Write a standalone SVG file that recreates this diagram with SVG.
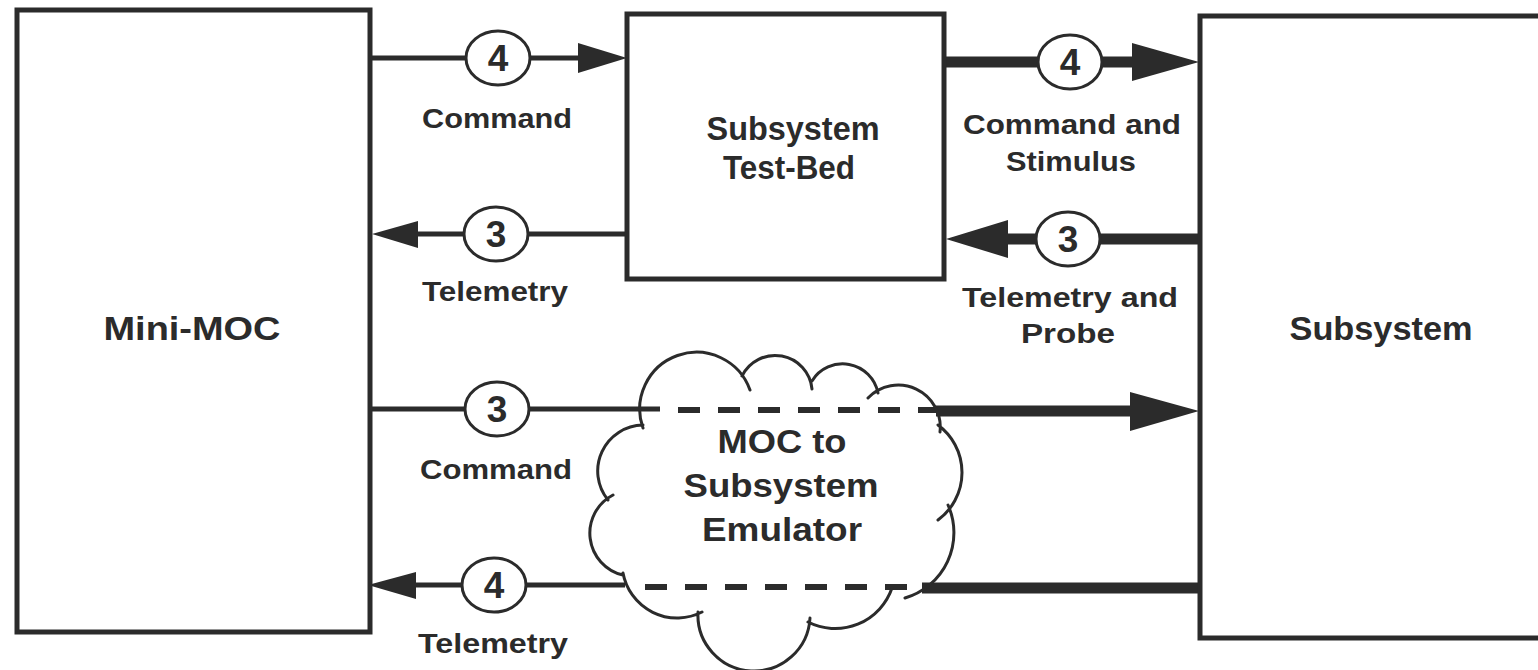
<svg xmlns="http://www.w3.org/2000/svg" width="1538" height="670" viewBox="0 0 1538 670">
  <style>
    .box { fill: #ffffff; stroke: #2b2b2b; stroke-width: 5; }
    .thin { stroke: #2b2b2b; stroke-width: 5; fill: none; }
    .thick { stroke: #2b2b2b; stroke-width: 11; fill: none; }
    .dash { stroke: #2b2b2b; stroke-width: 6; fill: none; stroke-dasharray: 22 18; }
    .head { fill: #2b2b2b; }
    .badge { fill: #ffffff; stroke: #2b2b2b; stroke-width: 3; }
    .cloud { fill: none; stroke: #2b2b2b; stroke-width: 3; stroke-linecap: round; }
    .num { font-family: "Liberation Sans", Arial, sans-serif; font-weight: bold; font-size: 37px; fill: #2b2b2b; text-anchor: middle; }
    .lbl { font-family: "Liberation Sans", Arial, sans-serif; font-weight: bold; font-size: 27px; fill: #2b2b2b; text-anchor: middle; }
    .big { font-family: "Liberation Sans", Arial, sans-serif; font-weight: bold; font-size: 34px; fill: #2b2b2b; text-anchor: middle; }
  </style>
  <rect width="1538" height="670" fill="#ffffff"/>

  <!-- connectors -->
  <g id="connectors">
    <!-- Mini-MOC to Test-Bed: command -->
    <line class="thin" x1="372" y1="58" x2="582" y2="58"/>
    <polygon class="head" points="578,43 627,58 578,73"/>
    <!-- Test-Bed to Subsystem: command and stimulus -->
    <line class="thick" x1="946" y1="62" x2="1136" y2="62"/>
    <polygon class="head" points="1132,43 1199,62 1132,81"/>
    <!-- Test-Bed to Mini-MOC: telemetry -->
    <line class="thin" x1="414" y1="234" x2="627" y2="234"/>
    <polygon class="head" points="372,234 418,221 418,248"/>
    <!-- Subsystem to Test-Bed: telemetry and probe -->
    <line class="thick" x1="1004" y1="239" x2="1199" y2="239"/>
    <polygon class="head" points="946,239 1008,220 1008,258"/>
    <!-- Mini-MOC to Subsystem through emulator: command -->
    <line class="thin" x1="370" y1="409" x2="660" y2="409"/>
    <line class="dash" x1="678" y1="410" x2="938" y2="410"/>
    <line class="thick" x1="936" y1="411" x2="1136" y2="411"/>
    <polygon class="head" points="1130,392 1199,411 1130,431"/>
    <!-- Subsystem to Mini-MOC through emulator: telemetry -->
    <line class="thick" x1="922" y1="588" x2="1199" y2="588"/>
    <line class="dash" x1="645" y1="587" x2="910" y2="587"/>
    <line class="thin" x1="412" y1="585" x2="625" y2="585"/>
    <polygon class="head" points="368,585 416,572 416,599"/>

    <!-- numbered flow badges -->
    <ellipse class="badge" cx="498" cy="58" rx="32" ry="27"/>
    <text class="num" x="498" y="71">4</text>
    <ellipse class="badge" cx="1070" cy="62" rx="32" ry="27"/>
    <text class="num" x="1070" y="75">4</text>
    <ellipse class="badge" cx="496" cy="234" rx="32" ry="27"/>
    <text class="num" x="496" y="247">3</text>
    <ellipse class="badge" cx="1068" cy="239" rx="32" ry="27"/>
    <text class="num" x="1068" y="252">3</text>
    <ellipse class="badge" cx="497" cy="409" rx="32" ry="27"/>
    <text class="num" x="497" y="422">3</text>
    <ellipse class="badge" cx="494" cy="585" rx="32" ry="27"/>
    <text class="num" x="494" y="598">4</text>

    <!-- flow labels -->
    <text class="lbl" x="497" y="128" textLength="150" lengthAdjust="spacingAndGlyphs">Command</text>
    <text class="lbl" x="1072" y="134" textLength="218" lengthAdjust="spacingAndGlyphs">Command and</text>
    <text class="lbl" x="1071" y="171" textLength="130" lengthAdjust="spacingAndGlyphs">Stimulus</text>
    <text class="lbl" x="495" y="301" textLength="146" lengthAdjust="spacingAndGlyphs">Telemetry</text>
    <text class="lbl" x="1070" y="307" textLength="216" lengthAdjust="spacingAndGlyphs">Telemetry and</text>
    <text class="lbl" x="1068" y="343" textLength="94" lengthAdjust="spacingAndGlyphs">Probe</text>
    <text class="lbl" x="496" y="479" textLength="152" lengthAdjust="spacingAndGlyphs">Command</text>
    <text class="lbl" x="493" y="653" textLength="150" lengthAdjust="spacingAndGlyphs">Telemetry</text>
  </g>

  <!-- Mini-MOC -->
  <g id="mini-moc">
    <rect class="box" x="17" y="10" width="353" height="622"/>
    <text class="big" x="192" y="340" textLength="177" lengthAdjust="spacingAndGlyphs">Mini-MOC</text>
  </g>

  <!-- Subsystem Test-Bed -->
  <g id="test-bed">
    <rect class="box" x="627" y="14" width="317" height="265"/>
    <text class="big" x="793" y="140" textLength="173" lengthAdjust="spacingAndGlyphs">Subsystem</text>
    <text class="big" x="789" y="179" textLength="132" lengthAdjust="spacingAndGlyphs">Test-Bed</text>
  </g>

  <!-- Subsystem -->
  <g id="subsystem">
    <rect class="box" x="1200" y="16" width="360" height="622"/>
    <text class="big" x="1381" y="340" textLength="183" lengthAdjust="spacingAndGlyphs">Subsystem</text>
  </g>

  <!-- MOC to Subsystem Emulator (cloud) -->
  <g id="emulator">
    <path class="cloud" d="
      M 643,428 A 56 56 0 0 1 750,390
      M 742,376 A 37 37 0 0 1 812,389
      M 812,381 A 36 36 0 0 1 878,393
      M 868,398 A 42 42 0 0 1 940,432
      M 938,425 A 59 59 0 0 1 938,520
      M 948,505 A 68 68 0 0 1 905,598
      M 892,588 A 60 60 0 0 1 808,622
      M 810,618 A 55 55 0 0 1 698,612
      M 702,612 A 55 55 0 0 1 623,573
      M 623,575 A 43 43 0 0 1 613,495
      M 608,500 A 46 46 0 0 1 643,425"/>
    <text class="big" x="782" y="453" textLength="129" lengthAdjust="spacingAndGlyphs">MOC to</text>
    <text class="big" x="781" y="497" textLength="195" lengthAdjust="spacingAndGlyphs">Subsystem</text>
    <text class="big" x="782" y="541" textLength="160" lengthAdjust="spacingAndGlyphs">Emulator</text>
  </g>
</svg>
